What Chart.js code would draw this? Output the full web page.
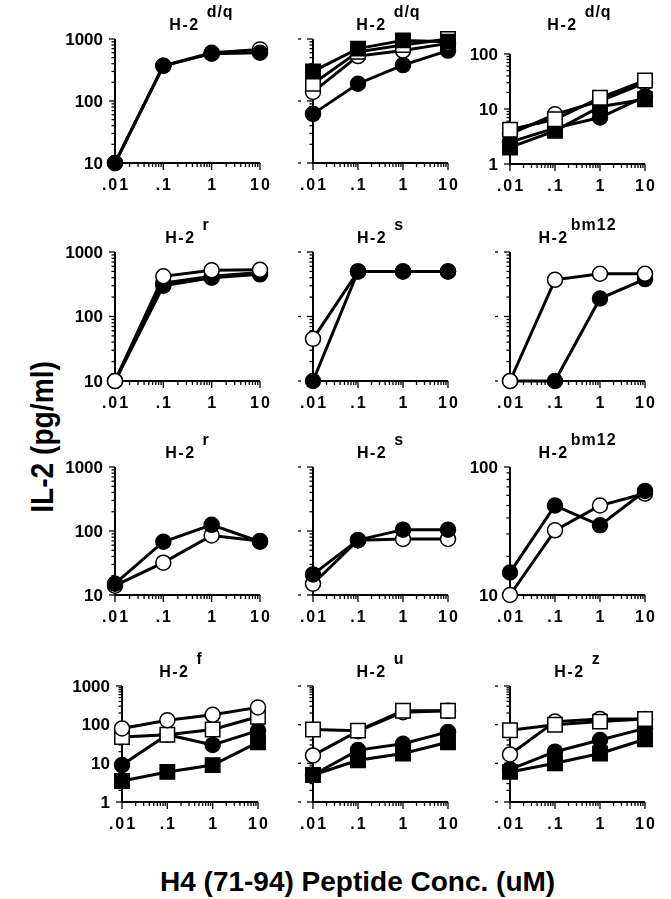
<!DOCTYPE html>
<html>
<head>
<meta charset="utf-8">
<script src="https://cdn.jsdelivr.net/npm/chart.js@4"></script>
<style>
  body { margin: 0; background: #fff; width: 671px; height: 899px; position: relative; overflow: hidden;
         font-family: "Liberation Sans", Arial, sans-serif; }
  canvas { position: absolute; }
  .ytitle { position: absolute; left: 42px; top: 437px; font-weight: bold; font-size: 32px;
            transform: translate(-50%, -50%) rotate(-90deg) scaleX(0.88); white-space: nowrap; }
  .xtitle { position: absolute; left: 160px; top: 882px; font-weight: bold; font-size: 28px;
            transform: translateY(-50%); white-space: nowrap; }
</style>
</head>
<body>
<div class="ytitle">IL-2 (pg/ml)</div>
<div class="xtitle">H4 (71-94) Peptide Conc. (uM)</div>
<script>
// peptide concentrations (uM) and x tick labels
const concs = [0.01, 0.1, 1, 10];
const xTickLabels = [".01", ".1", "1", "10"];

// IL-2 (pg/ml)
// row 1
const dqA_open = [10, 370, 600, 680];
const dqA_filled = [10, 370, 580, 600];
const dqB_filledSq = [300, 700, 950, 900];
const dqB_openSq = [190, 620, 800, 1000];
const dqB_open = [140, 530, 650, 850];
const dqB_filled = [62, 190, 380, 650];
const dqC_openSq = [4.2, 6.5, 16, 33];
const dqC_open = [3.5, 8, 14, 30];
const dqC_filled = [2.5, 4.5, 7, 17];
const dqC_filledSq = [2.0, 4, 11, 15];
// row 2
const r1_open = [10, 420, 520, 530];
const r1_filledA = [10, 330, 420, 480];
const r1_filledB = [10, 300, 400, 450];
const s1_open = [45, 500, 500, 500];
const s1_filled = [10, 500, 500, 500];
const bm1_open = [10, 370, 460, 460];
const bm1_filled = [10, 10, 190, 380];
// row 3
const r2_filled = [15, 68, 125, 68];
const r2_open = [14, 32, 85, 70];
const s2_filled = [21, 72, 105, 105];
const s2_open = [15, 72, 75, 75];
const bm2_filled = [15, 50, 35, 65];
const bm2_open = [10, 32, 50, 62];
// row 4
const f_open = [80, 130, 180, 280];
const f_openSq = [48, 55, 75, 160];
const f_filled = [9, 55, 30, 70];
const f_filledSq = [3.5, 6, 9, 35];
const u_openSq = [75, 70, 230, 230];
const u_open = [16, 68, 210, 230];
const u_filled = [5, 22, 32, 65];
const u_filledSq = [5, 12, 18, 35];
const z_openSq = [72, 100, 120, 140];
const z_open = [17, 120, 140, 140];
const z_filled = [7, 20, 40, 80];
const z_filledSq = [6, 10, 18, 42];

// grid geometry
const cols = [{ L: 115, R: 260 }, { L: 313, R: 448 }, { L: 510, R: 645 }];
const rows = [{ T: 39, B: 163 }, { T: 252, B: 381 }, { T: 467, B: 595 }, { T: 686, B: 802 }];

function series(data, kind) {
  const open = kind.startsWith("open");
  const square = kind.endsWith("Sq");
  return {
    data: data.map((v, i) => ({ x: concs[i], y: v })),
    borderColor: "#000",
    borderWidth: 3,
    pointStyle: square ? "rect" : "circle",
    pointRadius: square ? 10.2 : 7.5,
    pointHoverRadius: square ? 10.2 : 7.5,
    pointBackgroundColor: open ? "#fff" : "#000",
    pointBorderColor: "#000",
    pointBorderWidth: 1.5,
    tension: 0,
    fill: false,
    clip: false
  };
}

const panels = [
  { r: 0, c: 0, sup: "d/q", dx: 14, yMin: 10, yMax: 1000, labels: true,
    sets: [series(dqA_filled, "filled"), series(dqA_open, "open")] },
  { r: 0, c: 1, sup: "d/q", dx: 8, yMin: 10, yMax: 1000,
    sets: [series(dqB_filledSq, "filledSq"), series(dqB_openSq, "openSq"), series(dqB_open, "open"), series(dqB_filled, "filled")] },
  { r: 0, c: 2, sup: "d/q", dx: 2, yMin: 1, yMax: 100, labels: true, T: 54, B: 164,
    sets: [series(dqC_openSq, "openSq"), series(dqC_filledSq, "filledSq"), series(dqC_filled, "filled"), series(dqC_open, "open")] },
  { r: 1, c: 0, sup: "r", dx: 0, yMin: 10, yMax: 1000, labels: true,
    sets: [series(r1_open, "open"), series(r1_filledA, "filled"), series(r1_filledB, "filled")] },
  { r: 1, c: 1, sup: "s", dx: 0, yMin: 10, yMax: 1000,
    sets: [series(s1_filled, "filled"), series(s1_open, "open")] },
  { r: 1, c: 2, sup: "bm12", dx: 0, tight: true, yMin: 10, yMax: 1000,
    sets: [series(bm1_open, "open"), series(bm1_filled, "filled")] },
  { r: 2, c: 0, sup: "r", dx: 0, yMin: 10, yMax: 1000, labels: true,
    sets: [series(r2_filled, "filled"), series(r2_open, "open")] },
  { r: 2, c: 1, sup: "s", dx: 0, yMin: 10, yMax: 1000,
    sets: [series(s2_filled, "filled"), series(s2_open, "open")] },
  { r: 2, c: 2, sup: "bm12", dx: 0, tight: true, yMin: 10, yMax: 100, labels: true,
    sets: [series(bm2_filled, "filled"), series(bm2_open, "open")] },
  { r: 3, c: 0, sup: "f", dx: -9, yMin: 1, yMax: 1000, labels: true, L: 122, R: 258,
    sets: [series(f_open, "open"), series(f_openSq, "openSq"), series(f_filled, "filled"), series(f_filledSq, "filledSq")] },
  { r: 3, c: 1, sup: "u", dx: 0, yMin: 1, yMax: 1000,
    sets: [series(u_openSq, "openSq"), series(u_open, "open"), series(u_filled, "filled"), series(u_filledSq, "filledSq")] },
  { r: 3, c: 2, sup: "z", dx: 0, yMin: 1, yMax: 1000,
    sets: [series(z_openSq, "openSq"), series(z_open, "open"), series(z_filled, "filled"), series(z_filledSq, "filledSq")] }
];

// axes, ticks, labels and titles drawn from the chart's own scales
const panelAxes = {
  id: "panelAxes",
  beforeDatasetsDraw(chart, args, o) {
    const { ctx, chartArea: a, scales: { x, y } } = chart;
    ctx.save();
    ctx.strokeStyle = "#000";
    ctx.fillStyle = "#000";
    ctx.lineWidth = 2;
    ctx.beginPath();
    ctx.moveTo(a.left, a.top);
    ctx.lineTo(a.left, a.bottom);
    ctx.lineTo(a.right, a.bottom);
    ctx.stroke();

    ctx.lineWidth = 1.3;
    // y ticks
    for (let e = Math.log10(o.yMin); e < Math.log10(o.yMax); e++) {
      for (let m = 1; m <= 9; m++) {
        const py = y.getPixelForValue(m * Math.pow(10, e));
        ctx.beginPath();
        ctx.moveTo(a.left, py);
        ctx.lineTo(a.left - (m === 1 ? 6 : 3.5), py);
        ctx.stroke();
      }
    }
    const pTop = y.getPixelForValue(o.yMax);
    ctx.beginPath(); ctx.moveTo(a.left, pTop); ctx.lineTo(a.left - 6, pTop); ctx.stroke();
    // x ticks
    for (let e = -2; e < 1; e++) {
      for (let m = 1; m <= 9; m++) {
        const px = x.getPixelForValue(m * Math.pow(10, e));
        ctx.beginPath();
        ctx.moveTo(px, a.bottom);
        ctx.lineTo(px, a.bottom + (m === 1 ? 7 : 4));
        ctx.stroke();
      }
    }
    const pR = x.getPixelForValue(10);
    ctx.beginPath(); ctx.moveTo(pR, a.bottom); ctx.lineTo(pR, a.bottom + 7); ctx.stroke();

    // y labels or small dashes
    const decades = [];
    for (let v = o.yMin; v <= o.yMax * 1.001; v *= 10) decades.push(v);
    ctx.textBaseline = "middle";
    ctx.textAlign = "right";
    ctx.font = "bold 17px 'Liberation Sans', Arial, sans-serif";
    decades.forEach(v => {
      const py = y.getPixelForValue(v);
      if (o.labels) {
        ctx.fillText(String(Math.round(v)), a.left - 12, py + 1);
      } else {
        ctx.beginPath(); ctx.moveTo(a.left - 15, py); ctx.lineTo(a.left - 12, py); ctx.stroke();
      }
    });

    // x labels
    ctx.textAlign = "center";
    ctx.font = "bold 16px 'Liberation Sans', Arial, sans-serif";
    ctx.letterSpacing = "2px";
    concs.forEach((c, i) => {
      ctx.fillText(xTickLabels[i], x.getPixelForValue(c) + 1, o.labelY);
    });

    // title H-2 with superscript
    ctx.letterSpacing = "1.5px";
    ctx.font = "bold 16px 'Liberation Sans', Arial, sans-serif";
    const main = "H-2";
    const wMain = ctx.measureText(main).width;
    ctx.letterSpacing = "1px";
    const wSup = ctx.measureText(o.sup).width;
    const gap = o.tight ? 2 : 7;
    const cx = (a.left + a.right) / 2 + o.dx;
    const x0 = cx - (wMain + gap + wSup) / 2;
    ctx.textAlign = "left";
    ctx.textBaseline = "alphabetic";
    ctx.letterSpacing = "1.5px";
    ctx.fillText(main, x0, o.titleY + 6);
    ctx.letterSpacing = "1px";
    ctx.fillText(o.sup, x0 + wMain + gap, o.titleY - 7);
    ctx.restore();
  }
};

const padL = 75, padT = 62, padR = 20, padB = 40;

panels.forEach(p => {
  const col = cols[p.c], row = rows[p.r];
  const L = p.L !== undefined ? p.L : col.L;
  const R = p.R !== undefined ? p.R : col.R;
  const T = p.T !== undefined ? p.T : row.T;
  const B = p.B !== undefined ? p.B : row.B;
  const top = T - padT;
  const cv = document.createElement("canvas");
  const w = R - L + padL + padR;
  const h = B - T + padT + padB;
  cv.width = w; cv.height = h;
  cv.style.left = (L - padL) + "px";
  cv.style.top = top + "px";
  cv.style.width = w + "px"; cv.style.height = h + "px";
  document.body.appendChild(cv);

  new Chart(cv.getContext("2d"), {
    type: "line",
    data: { datasets: p.sets },
    options: {
      responsive: false,
      maintainAspectRatio: false,
      animation: false,
      events: [],
      layout: { padding: { left: padL, top: padT, right: padR, bottom: padB } },
      scales: {
        x: { type: "logarithmic", min: 0.01, max: 10, display: false },
        y: { type: "logarithmic", min: p.yMin, max: p.yMax, display: false }
      },
      plugins: {
        legend: { display: false },
        tooltip: { enabled: false },
        panelAxes: {
          yMin: p.yMin, yMax: p.yMax, labels: !!p.labels, sup: p.sup, dx: p.dx, tight: !!p.tight,
          labelY: B + 23 - top,
          titleY: row.T - 15 - top
        }
      }
    },
    plugins: [panelAxes]
  });
});
</script>
</body>
</html>
